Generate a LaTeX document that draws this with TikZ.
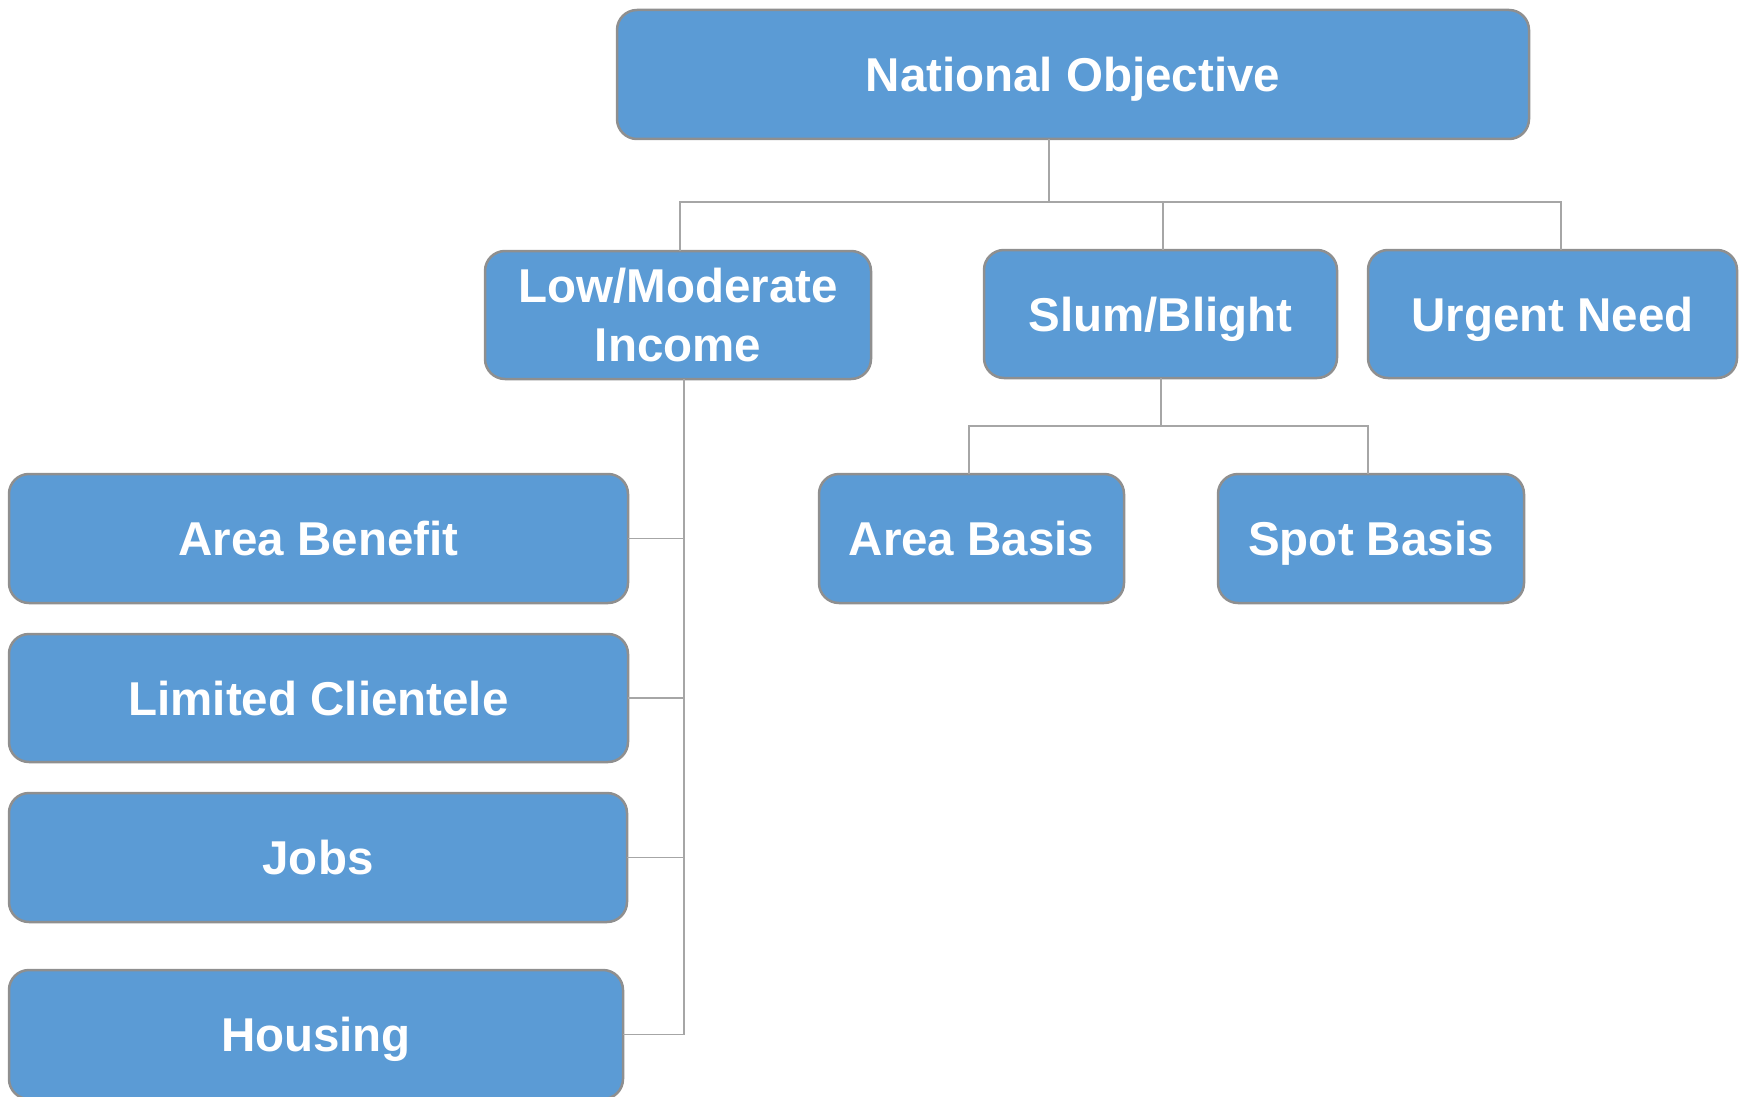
\documentclass[tikz,border=0pt]{standalone}
\usepackage{fontspec}
\setmainfont{Liberation Sans}
\definecolor{boxfill}{HTML}{5B9BD5}
\definecolor{boxline}{HTML}{8F8F8F}
\definecolor{connline}{HTML}{A6A6A6}
\begin{document}
\begin{tikzpicture}[x=1pt,y=-1pt,
  box/.style={draw=boxline, line width=2.5pt, fill=boxfill, rounded corners=20pt,
    text=white, font=\bfseries\fontsize{47.5}{59}\selectfont, align=center,
    inner sep=0pt, outer sep=0pt},
  oneline/.style={text height=34pt, text depth=0pt},
  conn/.style={draw=connline, line width=1.5pt}]
\useasboundingbox (0,0) rectangle (1740,1097);
\clip (0,0) rectangle (1740,1097);
\node[box, oneline, minimum width=912pt, minimum height=129pt] (no) at (1073,74.5) {National Objective};
\node[box, minimum width=386pt, minimum height=128pt] (low) at (678,315) {Low/Moderate\\Income};
\node[box, oneline, minimum width=353pt, minimum height=128pt] (slum) at (1160.5,314) {Slum/Blight};
\node[box, oneline, minimum width=369pt, minimum height=128pt] (urg) at (1552.5,314) {Urgent Need};
\node[box, oneline, minimum width=305pt, minimum height=129pt] (ab) at (971.5,538.5) {Area Basis};
\node[box, oneline, minimum width=306pt, minimum height=129pt] (sb) at (1371,538.5) {Spot Basis};
\node[box, oneline, minimum width=619pt, minimum height=129pt] (aben) at (318.5,538.5) {Area Benefit};
\node[box, oneline, minimum width=619pt, minimum height=128pt] (lc) at (318.5,698) {Limited Clientele};
\node[box, oneline, minimum width=618pt, minimum height=129pt] (jobs) at (318,857.5) {Jobs};
\node[box, oneline, minimum width=614pt, minimum height=129pt] (hous) at (316,1034.5) {Housing};
% top bus
\coordinate (nobus) at (1049,202);
\coordinate (lowtop) at (680,202);
\coordinate (slumtop) at (1163,202);
\coordinate (urgtop) at (1561,202);
\draw[conn] (nobus |- no.south) -- (nobus);
\draw[conn] (lowtop |- low.north) -- (lowtop) -- (urgtop) -- (urgtop |- urg.north);
\draw[conn] (slumtop |- slum.north) -- (slumtop);
% slum bus
\coordinate (sbus) at (1161,426);
\coordinate (abtop) at (969,426);
\coordinate (sbtop) at (1368,426);
\draw[conn] (sbus |- slum.south) -- (sbus);
\draw[conn] (abtop |- ab.north) -- (abtop) -- (sbtop) -- (sbtop |- sb.north);
% left bus
\coordinate (lbus) at (684,1034.5);
\draw[conn] (lbus |- low.south) -- (lbus);
\draw[conn] (aben.east) -- (aben.east -| lbus);
\draw[conn] (lc.east) -- (lc.east -| lbus);
\draw[conn] (jobs.east) -- (jobs.east -| lbus);
\draw[conn] (hous.east) -- (lbus);
\end{tikzpicture}
\end{document}
